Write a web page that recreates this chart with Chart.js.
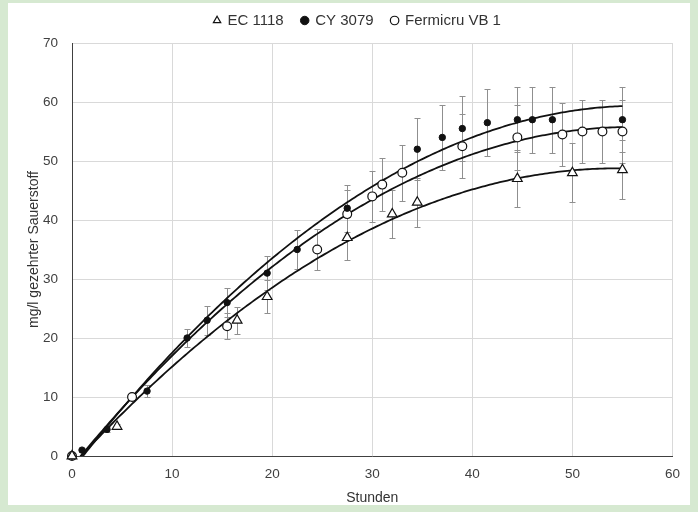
<!DOCTYPE html>
<html><head><meta charset="utf-8">
<script src="https://cdn.jsdelivr.net/npm/chart.js@4.4.1/dist/chart.umd.min.js"></script>
<style>
html,body{margin:0;padding:0;background:#d6e9d1;width:698px;height:512px;overflow:hidden}
#frame{position:absolute;left:8px;top:3px;width:682px;height:502px;background:#fff}
#wrap{position:absolute;left:0;top:0;width:682px;height:502px}
</style></head><body>
<div id="frame"><div id="wrap"><canvas id="c"></canvas></div></div>
<script>
// ---- data ----
const seriesNames = ['EC 1118', 'CY 3079', 'Fermicru VB 1'];

const hoursEC = [0, 4.5, 16.5, 19.5, 27.5, 32, 34.5, 44.5, 50, 55];
const oxygenEC = [0, 5, 23, 27, 37, 41, 43, 47, 48, 48.5];
const errorEC = [0, 0.5, 2.3, 2.8, 3.8, 4, 4.2, 4.8, 5, 5];

const hoursCY = [0, 1, 3.5, 7.5, 11.5, 13.5, 15.5, 19.5, 22.5, 27.5, 34.5, 37, 39, 41.5, 44.5, 46, 48, 55];
const oxygenCY = [0, 1, 4.5, 11, 20, 23, 26, 31, 35, 42, 52, 54, 55.5, 56.5, 57, 57, 57, 57];
const errorCY = [0, 0.3, 0.5, 1, 1.5, 2.5, 2.5, 2.9, 3.3, 4, 5.3, 5.5, 5.5, 5.7, 5.5, 5.6, 5.6, 5.5];

const hoursFV = [0, 6, 15.5, 24.5, 27.5, 30, 31, 33, 39, 44.5, 49, 51, 53, 55];
const oxygenFV = [0, 10, 22, 35, 41, 44, 46, 48, 52.5, 54, 54.5, 55, 55, 55];
const errorFV = [0, 0.5, 2.2, 3.4, 4, 4.3, 4.5, 4.7, 5.4, 5.5, 5.4, 5.4, 5.4, 5.4];

const xTicks = [0, 10, 20, 30, 40, 50, 60];
const yTicks = [0, 10, 20, 30, 40, 50, 60, 70];

// ---- helpers ----
function pts(xs, ys) { return xs.map((x, i) => ({x: x, y: ys[i]})); }

// least-squares 2nd order polynomial trendline (as in the original spreadsheet chart)
function quadFit(xs, ys) {
  let n = xs.length, s1 = 0, s2 = 0, s3 = 0, s4 = 0, t0 = 0, t1 = 0, t2 = 0;
  for (let i = 0; i < n; i++) {
    const x = xs[i], y = ys[i];
    s1 += x; s2 += x * x; s3 += x * x * x; s4 += x * x * x * x;
    t0 += y; t1 += x * y; t2 += x * x * y;
  }
  const det3 = m => m[0][0]*(m[1][1]*m[2][2]-m[1][2]*m[2][1]) - m[0][1]*(m[1][0]*m[2][2]-m[1][2]*m[2][0]) + m[0][2]*(m[1][0]*m[2][1]-m[1][1]*m[2][0]);
  const A = [[n, s1, s2], [s1, s2, s3], [s2, s3, s4]];
  const B = [t0, t1, t2];
  const D = det3(A);
  return [0, 1, 2].map(k => det3(A.map((row, r) => row.map((v, j) => j === k ? B[r] : v))) / D);
}
function trend(xs, ys) {
  const c = quadFit(xs, ys);
  const xmax = Math.max(...xs), xmin = Math.min(...xs);
  const out = [];
  for (let x = xmin; x <= xmax + 1e-9; x += 0.25) out.push({x: x, y: c[0] + c[1] * x + c[2] * x * x});
  return out;
}

const errorBars = {
  id: 'errorBars',
  beforeDatasetsDraw(chart) {
    const {ctx, scales: {x, y}} = chart;
    ctx.save();
    ctx.beginPath();
    ctx.rect(chart.chartArea.left, chart.chartArea.top, chart.chartArea.width, chart.chartArea.height);
    ctx.clip();
    ctx.strokeStyle = '#8f8f8f';
    ctx.lineWidth = 1;
    chart.data.datasets.forEach(ds => {
      if (!ds.errors) return;
      ds.data.forEach((p, j) => {
        const e = ds.errors[j];
        if (!e) return;
        const px = Math.round(x.getPixelForValue(p.x)) + 0.5;
        const y1 = Math.round(y.getPixelForValue(p.y - e)) + 0.5;
        const y2 = Math.round(y.getPixelForValue(p.y + e)) + 0.5;
        ctx.beginPath();
        ctx.moveTo(px, y1); ctx.lineTo(px, y2);
        ctx.moveTo(px - 3, y1); ctx.lineTo(px + 3, y1);
        ctx.moveTo(px - 3, y2); ctx.lineTo(px + 3, y2);
        ctx.stroke();
      });
    });
    ctx.restore();
  }
};

const legendMargin = {
  id: 'legendMargin',
  beforeInit(chart) {
    const fit = chart.legend.fit;
    chart.legend.fit = function () { fit.call(this); this.height += 5; };
  }
};

const FONT = 'Liberation Sans, Arial, Helvetica, sans-serif';
Chart.defaults.font.family = FONT;
Chart.defaults.color = '#404040';

const trendStyle = {showLine: true, pointRadius: 0, pointHoverRadius: 0, borderColor: '#111', borderWidth: 1.8, backgroundColor: '#111', fill: false, tension: 0};

new Chart(document.getElementById('c'), {
  type: 'scatter',
  data: {
    datasets: [
      {label: seriesNames[0], data: pts(hoursEC, oxygenEC), errors: errorEC, clip: false, pointStyle: 'triangle', pointRadius: 5.6, pointBorderWidth: 1.2, backgroundColor: '#fff', borderColor: '#111'},
      {label: seriesNames[1], data: pts(hoursCY, oxygenCY), errors: errorCY, clip: false, pointStyle: 'circle', pointRadius: 3.2, pointBorderWidth: 1, backgroundColor: '#111', borderColor: '#111'},
      {label: seriesNames[2], data: pts(hoursFV, oxygenFV), errors: errorFV, clip: false, pointStyle: 'circle', pointRadius: 4.4, pointBorderWidth: 1.2, backgroundColor: '#fff', borderColor: '#111'},
      Object.assign({label: 'trendEC', data: trend(hoursEC, oxygenEC)}, trendStyle),
      Object.assign({label: 'trendCY', data: trend(hoursCY, oxygenCY)}, trendStyle),
      Object.assign({label: 'trendFV', data: trend(hoursFV, oxygenFV)}, trendStyle)
    ]
  },
  options: {
    responsive: true,
    maintainAspectRatio: false,
    animation: false,
    events: [],
    layout: {padding: {left: 34, right: 17, top: -8, bottom: 0}},
    plugins: {
      tooltip: {enabled: false},
      legend: {
        position: 'top',
        labels: {
          usePointStyle: true, boxWidth: 6, boxHeight: 6, padding: 18,
          color: '#333', font: {size: 15, family: FONT},
          filter: item => item.datasetIndex < 3
        }
      }
    },
    scales: {
      x: {
        type: 'linear', min: 0, max: 60,
        afterBuildTicks: s => { s.ticks = xTicks.map(v => ({value: v})); },
        ticks: {padding: 10, color: '#404040', font: {size: 13.5}},
        grid: {color: '#d9d9d9', drawTicks: false, lineWidth: 1},
        border: {color: '#404040', width: 1},
        title: {display: true, text: 'Stunden', color: '#333', font: {size: 14}, padding: {top: 0, bottom: -1.5}},
        afterFit: s => { s.height = 49; }
      },
      y: {
        min: 0, max: 70,
        afterBuildTicks: s => { s.ticks = yTicks.map(v => ({value: v})); },
        ticks: {padding: 14, color: '#404040', font: {size: 13.5}},
        grid: {color: '#d9d9d9', drawTicks: false, lineWidth: 1},
        border: {color: '#404040', width: 1},
        title: {display: true, text: 'mg/l gezehrter Sauerstoff', color: '#333', font: {size: 14}, padding: {top: -16, bottom: 0}},
        afterFit: s => { s.width = 30; }
      }
    }
  },
  plugins: [errorBars, legendMargin]
});
</script>
</body></html>
